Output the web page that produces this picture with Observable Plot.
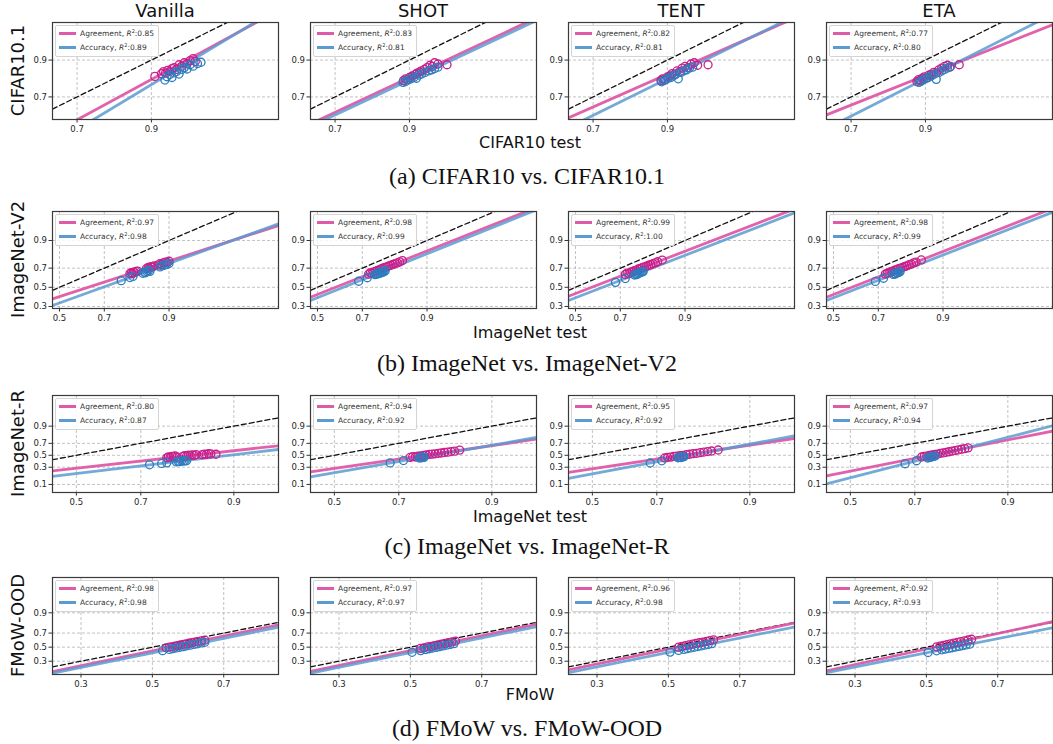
<!DOCTYPE html>
<html>
<head>
<meta charset="utf-8">
<script src="https://cdn.jsdelivr.net/npm/d3@7"></script>
<script src="https://cdn.jsdelivr.net/npm/@observablehq/plot@0.6"></script>
<style>
  body { margin: 0; background: #fff; }
  #fig { position: relative; width: 1053px; height: 744px; overflow: hidden; background: #fff; }
  #fig > svg.panel { position: absolute; }
  .legend {
    position: absolute; background: rgba(255,255,255,0.85); border: 1px solid #d4d4d4; border-radius: 2px;
    padding: 1px 4px 1px 3px; font-family: "DejaVu Sans", sans-serif; font-size: 7.5px; line-height: 13px;
    color: #333; white-space: nowrap;
  }
  .legend .sw { display: inline-block; width: 17px; height: 2.6px; margin-right: 4px; vertical-align: middle; position: relative; top: -0.5px; }
  .legend sup { font-size: 5px; vertical-align: baseline; position: relative; top: -3px; }
  #labels { position: absolute; left: 0; top: 0; pointer-events: none; }
</style>
</head>
<body>
<div id="fig"></div>
<script>
// ---- figure content -------------------------------------------------------
const methods = ["Vanilla", "SHOT", "TENT", "ETA"];
const oodNames = ["CIFAR10.1", "ImageNet-V2", "ImageNet-R", "FMoW-OOD"];
const idNames = ["CIFAR10 test", "ImageNet test", "ImageNet test", "FMoW"];
const captions = ["(a) CIFAR10 vs. CIFAR10.1", "(b) ImageNet vs. ImageNet-V2",
                  "(c) ImageNet vs. ImageNet-R", "(d) FMoW vs. FMoW-OOD"];

// axis ticks and limits per row (accuracy units, probit-scaled axes)
const xTicks = [[0.7, 0.9], [0.5, 0.7, 0.9], [0.5, 0.7, 0.9], [0.3, 0.5, 0.7]];
const yTicks = [[0.7, 0.9], [0.3, 0.5, 0.7, 0.9], [0.1, 0.3, 0.5, 0.7, 0.9], [0.3, 0.5, 0.7, 0.9]];
const xLimits = [[0.608, 0.995], [0.4675, 0.9948], [0.423, 0.950], [0.2315, 0.823]];
const yLimits = [[0.524, 0.980], [0.281, 0.981], [0.051, 0.9957], [0.154, 0.9953]];

// R^2 of the linear fits, rows = datasets, columns = methods
const agreementR2 = [[0.85, 0.83, 0.82, 0.77], [0.97, 0.98, 0.99, 0.98], [0.80, 0.94, 0.95, 0.97], [0.98, 0.97, 0.96, 0.92]];
const accuracyR2  = [[0.89, 0.81, 0.81, 0.80], [0.98, 0.99, 1.00, 0.99], [0.87, 0.92, 0.92, 0.94], [0.98, 0.97, 0.98, 0.93]];

// linear fits in probit space: [slope, intercept]
const agreementFit = [
  [[1.0955, -0.5206], [0.948, -0.290], [0.89, -0.15], [0.804, -0.065]],
  [[0.759, -0.254], [0.9295, -0.196], [0.9034, -0.170], [0.920, -0.197]],
  [[0.598, -0.564], [0.780, -0.573], [0.813, -0.597], [1.067, -0.693]],
  [[1.049, -0.138], [1.054, -0.126], [1.054, -0.076], [1.102, -0.071]]
];
const accuracyFit = [
  [[1.216, -0.7815], [0.9466, -0.343], [0.9965, -0.378], [1.0206, -0.406]],
  [[0.846, -0.430], [0.939, -0.285], [0.908, -0.288], [0.914, -0.287]],
  [[0.645, -0.805], [0.940, -0.762], [1.021, -0.820], [1.39, -0.99]],
  [[1.034, -0.213], [1.042, -0.205], [1.024, -0.198], [1.006, -0.212]]
];

// [ID accuracy, OOD agreement] per model
const agreementPoints = [
  [
    [[0.906,0.828],[0.917,0.842],[0.92,0.852],[0.923,0.845],[0.926,0.858],[0.929,0.852],[0.932,0.866],[0.935,0.870],[0.938,0.862],[0.941,0.882],[0.944,0.876],[0.947,0.890],[0.95,0.886],[0.953,0.898],[0.956,0.905],[0.958,0.895]],
    [[0.889,0.805],[0.893,0.815],[0.897,0.81],[0.90,0.822],[0.905,0.83],[0.91,0.838],[0.913,0.845],[0.917,0.85],[0.92,0.855],[0.924,0.862],[0.928,0.87],[0.932,0.88],[0.935,0.875],[0.938,0.89],[0.942,0.885],[0.952,0.882]],
    [[0.888,0.805],[0.891,0.815],[0.895,0.81],[0.90,0.825],[0.904,0.83],[0.908,0.842],[0.912,0.838],[0.916,0.855],[0.92,0.85],[0.924,0.868],[0.928,0.875],[0.932,0.87],[0.936,0.885],[0.94,0.89],[0.944,0.88],[0.955,0.882]],
    [[0.884,0.80],[0.887,0.81],[0.89,0.805],[0.894,0.818],[0.898,0.825],[0.902,0.82],[0.906,0.835],[0.91,0.84],[0.914,0.848],[0.918,0.845],[0.922,0.86],[0.926,0.868],[0.93,0.875],[0.934,0.88],[0.937,0.872],[0.948,0.882]]
  ],
  [
    [[0.795,0.648],[0.80,0.655],[0.803,0.645],[0.807,0.662],[0.81,0.656],[0.815,0.668],[0.82,0.672],[0.845,0.695],[0.85,0.706],[0.853,0.700],[0.858,0.715],[0.862,0.711],[0.866,0.722],[0.875,0.728],[0.88,0.741],[0.884,0.735],[0.888,0.748],[0.892,0.755],[0.896,0.752],[0.90,0.762]],
    [[0.725,0.64],[0.732,0.655],[0.738,0.648],[0.745,0.663],[0.752,0.668],[0.758,0.678],[0.765,0.683],[0.772,0.692],[0.778,0.700],[0.785,0.707],[0.792,0.712],[0.798,0.722],[0.805,0.727],[0.812,0.735],[0.818,0.742],[0.825,0.748],[0.832,0.757],[0.84,0.768]],
    [[0.72,0.638],[0.727,0.652],[0.734,0.646],[0.741,0.661],[0.748,0.668],[0.755,0.675],[0.762,0.680],[0.769,0.692],[0.776,0.697],[0.783,0.705],[0.79,0.712],[0.797,0.718],[0.804,0.727],[0.811,0.733],[0.818,0.742],[0.825,0.748],[0.832,0.758],[0.845,0.772]],
    [[0.728,0.641],[0.735,0.65],[0.742,0.656],[0.749,0.666],[0.756,0.670],[0.763,0.680],[0.77,0.685],[0.777,0.695],[0.784,0.700],[0.791,0.708],[0.798,0.716],[0.805,0.722],[0.812,0.732],[0.819,0.738],[0.826,0.748],[0.833,0.755],[0.848,0.773]]
  ],
  [
    [[0.769,0.455],[0.773,0.47],[0.777,0.462],[0.781,0.482],[0.785,0.476],[0.789,0.49],[0.793,0.47],[0.807,0.482],[0.811,0.495],[0.815,0.488],[0.819,0.502],[0.823,0.495],[0.827,0.508],[0.831,0.5],[0.835,0.512],[0.847,0.512],[0.851,0.522],[0.855,0.516],[0.859,0.53],[0.863,0.524],[0.872,0.518]],
    [[0.731,0.462],[0.738,0.475],[0.745,0.47],[0.752,0.485],[0.759,0.49],[0.766,0.498],[0.773,0.505],[0.78,0.515],[0.787,0.52],[0.794,0.526],[0.801,0.535],[0.808,0.54],[0.815,0.55],[0.822,0.555],[0.829,0.565],[0.836,0.572],[0.846,0.59]],
    [[0.722,0.453],[0.73,0.465],[0.738,0.468],[0.746,0.48],[0.754,0.485],[0.762,0.495],[0.77,0.5],[0.778,0.51],[0.786,0.518],[0.794,0.528],[0.802,0.535],[0.81,0.545],[0.818,0.556],[0.826,0.565],[0.834,0.575],[0.847,0.592]],
    [[0.719,0.47],[0.726,0.482],[0.733,0.486],[0.74,0.498],[0.747,0.505],[0.754,0.515],[0.761,0.522],[0.768,0.535],[0.775,0.542],[0.782,0.552],[0.789,0.562],[0.796,0.574],[0.803,0.582],[0.81,0.594],[0.817,0.605],[0.824,0.615],[0.831,0.628]]
  ],
  [
    [[0.54,0.49],[0.55,0.50],[0.558,0.505],[0.566,0.515],[0.574,0.522],[0.582,0.532],[0.59,0.54],[0.598,0.548],[0.606,0.558],[0.614,0.565],[0.622,0.575],[0.63,0.582],[0.64,0.592],[0.65,0.603]],
    [[0.53,0.482],[0.54,0.49],[0.55,0.503],[0.56,0.512],[0.57,0.524],[0.58,0.534],[0.59,0.545],[0.60,0.556],[0.61,0.567],[0.62,0.578],[0.63,0.59]],
    [[0.53,0.50],[0.54,0.512],[0.55,0.522],[0.56,0.533],[0.57,0.544],[0.58,0.555],[0.59,0.565],[0.60,0.575],[0.61,0.586],[0.62,0.597],[0.63,0.608]],
    [[0.53,0.505],[0.54,0.516],[0.55,0.527],[0.56,0.538],[0.57,0.549],[0.58,0.56],[0.59,0.571],[0.60,0.582],[0.61,0.594],[0.62,0.605],[0.63,0.616]]
  ]
];

// [ID accuracy, OOD accuracy] per model
const accuracyPoints = [
  [
    [[0.922,0.808],[0.925,0.826],[0.929,0.838],[0.932,0.822],[0.935,0.846],[0.938,0.852],[0.941,0.840],[0.944,0.862],[0.947,0.870],[0.95,0.864],[0.953,0.882],[0.956,0.876],[0.96,0.887],[0.963,0.892]],
    [[0.888,0.795],[0.893,0.80],[0.898,0.81],[0.903,0.815],[0.908,0.823],[0.912,0.818],[0.916,0.835],[0.92,0.84],[0.925,0.848],[0.93,0.855],[0.934,0.86],[0.938,0.866],[0.942,0.872]],
    [[0.889,0.798],[0.893,0.805],[0.897,0.81],[0.901,0.818],[0.906,0.822],[0.91,0.83],[0.914,0.838],[0.918,0.815],[0.922,0.848],[0.926,0.855],[0.93,0.86],[0.934,0.868],[0.938,0.872]],
    [[0.888,0.795],[0.892,0.802],[0.896,0.81],[0.90,0.815],[0.905,0.822],[0.91,0.83],[0.914,0.838],[0.918,0.812],[0.922,0.848],[0.926,0.855],[0.93,0.862],[0.934,0.868],[0.938,0.875]]
  ],
  [
    [[0.765,0.572],[0.795,0.605],[0.805,0.617],[0.835,0.650],[0.839,0.662],[0.843,0.655],[0.847,0.668],[0.851,0.675],[0.855,0.669],[0.88,0.712],[0.885,0.722],[0.89,0.727],[0.895,0.735],[0.90,0.742]],
    [[0.685,0.566],[0.72,0.603],[0.75,0.636],[0.754,0.645],[0.758,0.64],[0.762,0.652],[0.766,0.648],[0.77,0.66],[0.774,0.656],[0.778,0.668],[0.782,0.665],[0.786,0.676]],
    [[0.68,0.554],[0.72,0.595],[0.755,0.632],[0.759,0.640],[0.763,0.636],[0.767,0.646],[0.771,0.650],[0.775,0.655],[0.779,0.661],[0.783,0.664],[0.786,0.668]],
    [[0.688,0.564],[0.721,0.598],[0.758,0.638],[0.762,0.645],[0.766,0.642],[0.77,0.652],[0.774,0.656],[0.778,0.661],[0.782,0.665]]
  ],
  [
    [[0.724,0.338],[0.756,0.36],[0.769,0.37],[0.792,0.385],[0.796,0.395],[0.80,0.39],[0.804,0.402],[0.808,0.398],[0.812,0.408],[0.815,0.404]],
    [[0.675,0.369],[0.713,0.408],[0.755,0.452],[0.758,0.462],[0.761,0.457],[0.764,0.468],[0.767,0.464]],
    [[0.681,0.367],[0.714,0.404],[0.757,0.457],[0.761,0.465],[0.765,0.46],[0.769,0.472],[0.772,0.477]],
    [[0.672,0.355],[0.705,0.405],[0.735,0.453],[0.739,0.46],[0.743,0.468],[0.747,0.474],[0.751,0.48],[0.755,0.488]]
  ],
  [
    [[0.53,0.448],[0.55,0.467],[0.56,0.478],[0.57,0.488],[0.58,0.498],[0.59,0.508],[0.60,0.52],[0.61,0.53],[0.62,0.54],[0.63,0.55],[0.64,0.562],[0.65,0.572]],
    [[0.505,0.424],[0.53,0.449],[0.545,0.465],[0.555,0.476],[0.565,0.487],[0.575,0.497],[0.585,0.508],[0.595,0.518],[0.605,0.529],[0.615,0.54],[0.625,0.551]],
    [[0.505,0.427],[0.53,0.452],[0.545,0.467],[0.555,0.477],[0.565,0.488],[0.575,0.498],[0.585,0.509],[0.595,0.519],[0.605,0.53],[0.615,0.54],[0.625,0.551]],
    [[0.505,0.421],[0.53,0.446],[0.545,0.461],[0.555,0.471],[0.565,0.481],[0.575,0.491],[0.585,0.502],[0.595,0.512],[0.605,0.523],[0.615,0.533],[0.625,0.544]]
  ]
];

// ---- probit helpers --------------------------------------------------------
function probit(p) {
  const a = [-3.969683028665376e+01, 2.209460984245205e+02, -2.759285104469687e+02, 1.383577518672690e+02, -3.066479806614716e+01, 2.506628277459239e+00];
  const b = [-5.447609879822406e+01, 1.615858368580409e+02, -1.556989798598866e+02, 6.680131188771972e+01, -1.328068155288572e+01];
  const c = [-7.784894002430293e-03, -3.223964580411365e-01, -2.400758277161838e+00, -2.549732539343734e+00, 4.374664141464968e+00, 2.938163982698783e+00];
  const d = [7.784695709041462e-03, 3.224671290700398e-01, 2.445134137142996e+00, 3.754408661907416e+00];
  const lo = 0.02425;
  if (p < lo) {
    const q = Math.sqrt(-2 * Math.log(p));
    return (((((c[0]*q+c[1])*q+c[2])*q+c[3])*q+c[4])*q+c[5]) / ((((d[0]*q+d[1])*q+d[2])*q+d[3])*q+1);
  }
  if (p > 1 - lo) {
    const q = Math.sqrt(-2 * Math.log(1 - p));
    return -(((((c[0]*q+c[1])*q+c[2])*q+c[3])*q+c[4])*q+c[5]) / ((((d[0]*q+d[1])*q+d[2])*q+d[3])*q+1);
  }
  const q = p - 0.5, r = q * q;
  return (((((a[0]*r+a[1])*r+a[2])*r+a[3])*r+a[4])*r+a[5])*q / (((((b[0]*r+b[1])*r+b[2])*r+b[3])*r+b[4])*r+1);
}
function normCdf(z) {
  const x = Math.abs(z) / Math.SQRT2;
  const t = 1 / (1 + 0.3275911 * x);
  const erf = 1 - (((((1.061405429*t - 1.453152027)*t) + 1.421413741)*t - 0.284496736)*t + 0.254829592)*t*Math.exp(-x*x);
  return 0.5 * (1 + (z < 0 ? -erf : erf));
}
const tickFmt = z => d3.format(".1f")(normCdf(z));

// ---- layout ----------------------------------------------------------------
const colLeft = [52, 310, 568, 826];
const rowTop = [22, 211, 395, 577];
const W = 226, H = 97;
const M = {left: 34, right: 2, top: 2, bottom: 20};

const PINK_LINE = "#df5aa7", BLUE_LINE = "#5b9bd1";
const PINK_DOT = "#c81f8b", BLUE_DOT = "#2b7dbf";

const fig = document.getElementById("fig");

function panel(r, c) {
  const [x0, x1] = xLimits[r].map(probit);
  const [y0, y1] = yLimits[r].map(probit);
  const fitLine = ([a, b]) => [x0, x1].map(p => ({p, q: a * p + b}));
  const gridStyle = {stroke: "#b3b3b3", strokeOpacity: 1, strokeWidth: 0.8, strokeDasharray: "3,2"};
  const svg = Plot.plot({
    width: W + M.left + M.right,
    height: H + M.top + M.bottom,
    marginLeft: M.left, marginRight: M.right, marginTop: M.top, marginBottom: M.bottom,
    x: {domain: [x0, x1]},
    y: {domain: [y0, y1]},
    style: {fontFamily: "DejaVu Sans, sans-serif", fontSize: "8.5px", color: "#262626", background: "none", overflow: "visible"},
    marks: [
      Plot.gridX(xTicks[r].map(probit), gridStyle),
      Plot.gridY(yTicks[r].map(probit), gridStyle),
      Plot.line([x0, x1], {x: d => d, y: d => d, stroke: "#111", strokeWidth: 1.3, strokeDasharray: "5,3", clip: true}),
      Plot.line(fitLine(agreementFit[r][c]), {x: "p", y: "q", stroke: PINK_LINE, strokeWidth: 2.8, strokeOpacity: 0.95, clip: true}),
      Plot.line(fitLine(accuracyFit[r][c]), {x: "p", y: "q", stroke: BLUE_LINE, strokeWidth: 2.8, strokeOpacity: 0.85, clip: true}),
      Plot.dot(agreementPoints[r][c], {x: d => probit(d[0]), y: d => probit(d[1]), r: 4, stroke: PINK_DOT, strokeWidth: 1.3, fill: "none", clip: true}),
      Plot.dot(accuracyPoints[r][c], {x: d => probit(d[0]), y: d => probit(d[1]), r: 4, stroke: BLUE_DOT, strokeWidth: 1.3, fill: "none", clip: true}),
      Plot.axisX(xTicks[r].map(probit), {tickFormat: tickFmt, tickSize: 3.5, tickPadding: 2.5, label: null, stroke: "#333"}),
      Plot.axisY(yTicks[r].map(probit), {tickFormat: tickFmt, tickSize: 3.5, tickPadding: 2, label: null, stroke: "#333"}),
      Plot.frame({stroke: "#3a3a3a", strokeWidth: 1.2})
    ]
  });
  svg.classList.add("panel");
  svg.style.left = (colLeft[c] - M.left) + "px";
  svg.style.top = (rowTop[r] - M.top) + "px";
  fig.appendChild(svg);

  const fmt = d3.format(".2f");
  const legend = document.createElement("div");
  legend.className = "legend";
  legend.style.left = (colLeft[c] + 3) + "px";
  legend.style.top = (rowTop[r] + 3) + "px";
  legend.innerHTML =
    `<div><span class="sw" style="background:${PINK_LINE}"></span>Agreement, <i>R</i><sup>2</sup>:${fmt(agreementR2[r][c])}</div>` +
    `<div><span class="sw" style="background:${BLUE_LINE}"></span>Accuracy, <i>R</i><sup>2</sup>:${fmt(accuracyR2[r][c])}</div>`;
  fig.appendChild(legend);
}

for (let r = 0; r < 4; ++r) for (let c = 0; c < 4; ++c) panel(r, c);

// ---- titles, row labels, axis labels and sub-captions ---------------------
const labels = d3.select(fig).append("svg")
  .attr("id", "labels").attr("width", 1053).attr("height", 744);

labels.selectAll("text.method").data(methods).join("text")
  .attr("x", (d, i) => colLeft[i] + W / 2).attr("y", 16.5)
  .attr("text-anchor", "middle").attr("font-family", "DejaVu Sans, sans-serif")
  .attr("font-size", 18).attr("fill", "#111").text(d => d);

labels.selectAll("text.ood").data(oodNames).join("text")
  .attr("transform", (d, i) => `translate(23.5,${rowTop[i] + H / 2}) rotate(-90)`)
  .attr("text-anchor", "middle").attr("font-family", "DejaVu Sans, sans-serif")
  .attr("font-size", 18).attr("fill", "#111").text(d => d);

const xLabelY = [148, 338, 522, 700];
labels.selectAll("text.id").data(idNames).join("text")
  .attr("x", 530).attr("y", (d, i) => xLabelY[i])
  .attr("text-anchor", "middle").attr("font-family", "DejaVu Sans, sans-serif")
  .attr("font-size", 16).attr("fill", "#111").text(d => d);

const captionY = [184, 371, 554, 736];
labels.selectAll("text.cap").data(captions).join("text")
  .attr("x", 527).attr("y", (d, i) => captionY[i])
  .attr("text-anchor", "middle").attr("font-family", "Liberation Serif, serif")
  .attr("font-size", 24).attr("fill", "#111").text(d => d);
</script>
</body>
</html>
